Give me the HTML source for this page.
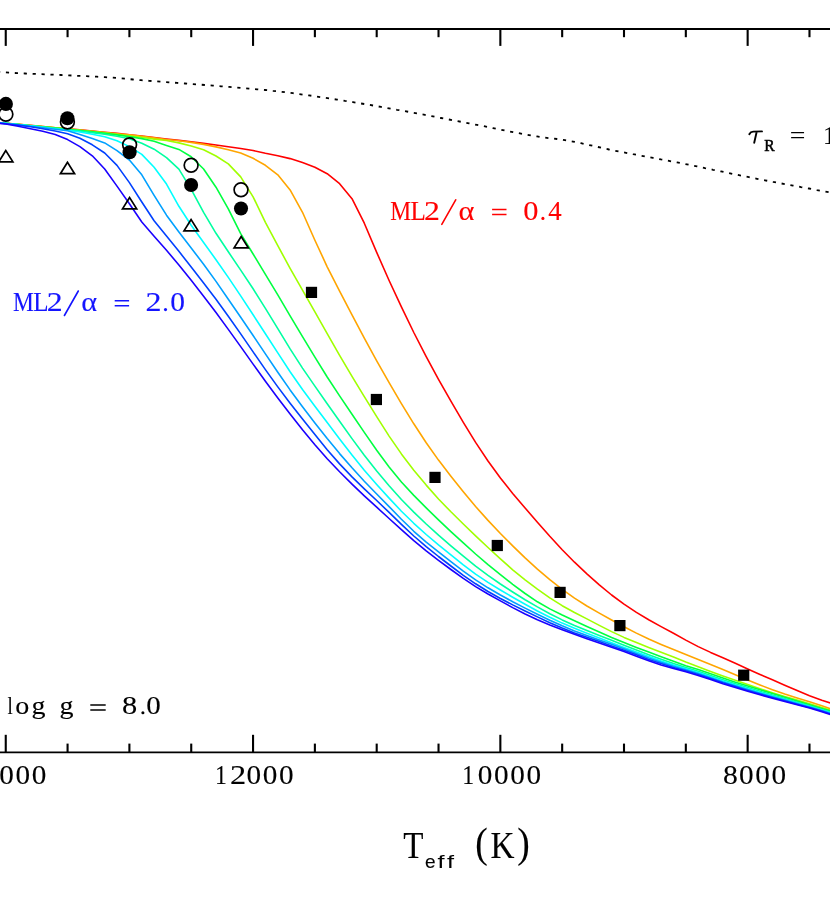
<!DOCTYPE html>
<html><head><meta charset="utf-8"><title>chart</title>
<style>html,body{margin:0;padding:0;background:#fff;}body{width:830px;height:897px;overflow:hidden;font-family:"Liberation Serif",serif;}svg{display:block;}</style>
</head><body>
<svg width="830" height="897" viewBox="0 0 830 897">
<rect width="830" height="897" fill="#fff"/>
<g stroke="#000" fill="none">
<line x1="0" y1="28.95" x2="830" y2="28.95" stroke-width="2.1"/>
<line x1="0" y1="752.4" x2="830" y2="752.4" stroke-width="1.6"/>
<line x1="-56.07" y1="29" x2="-56.07" y2="37.2" stroke-width="2.1"/>
<line x1="-56.07" y1="752.4" x2="-56.07" y2="743.6" stroke-width="2.1"/>
<line x1="5.75" y1="29" x2="5.75" y2="45.9" stroke-width="2.1"/>
<line x1="5.75" y1="752.4" x2="5.75" y2="734.8" stroke-width="2.1"/>
<line x1="67.57" y1="29" x2="67.57" y2="37.2" stroke-width="2.1"/>
<line x1="67.57" y1="752.4" x2="67.57" y2="743.6" stroke-width="2.1"/>
<line x1="129.40" y1="29" x2="129.40" y2="37.2" stroke-width="2.1"/>
<line x1="129.40" y1="752.4" x2="129.40" y2="743.6" stroke-width="2.1"/>
<line x1="191.23" y1="29" x2="191.23" y2="37.2" stroke-width="2.1"/>
<line x1="191.23" y1="752.4" x2="191.23" y2="743.6" stroke-width="2.1"/>
<line x1="253.05" y1="29" x2="253.05" y2="45.9" stroke-width="2.1"/>
<line x1="253.05" y1="752.4" x2="253.05" y2="734.8" stroke-width="2.1"/>
<line x1="314.88" y1="29" x2="314.88" y2="37.2" stroke-width="2.1"/>
<line x1="314.88" y1="752.4" x2="314.88" y2="743.6" stroke-width="2.1"/>
<line x1="376.70" y1="29" x2="376.70" y2="37.2" stroke-width="2.1"/>
<line x1="376.70" y1="752.4" x2="376.70" y2="743.6" stroke-width="2.1"/>
<line x1="438.53" y1="29" x2="438.53" y2="37.2" stroke-width="2.1"/>
<line x1="438.53" y1="752.4" x2="438.53" y2="743.6" stroke-width="2.1"/>
<line x1="500.35" y1="29" x2="500.35" y2="45.9" stroke-width="2.1"/>
<line x1="500.35" y1="752.4" x2="500.35" y2="734.8" stroke-width="2.1"/>
<line x1="562.17" y1="29" x2="562.17" y2="37.2" stroke-width="2.1"/>
<line x1="562.17" y1="752.4" x2="562.17" y2="743.6" stroke-width="2.1"/>
<line x1="624.00" y1="29" x2="624.00" y2="37.2" stroke-width="2.1"/>
<line x1="624.00" y1="752.4" x2="624.00" y2="743.6" stroke-width="2.1"/>
<line x1="685.83" y1="29" x2="685.83" y2="37.2" stroke-width="2.1"/>
<line x1="685.83" y1="752.4" x2="685.83" y2="743.6" stroke-width="2.1"/>
<line x1="747.65" y1="29" x2="747.65" y2="45.9" stroke-width="2.1"/>
<line x1="747.65" y1="752.4" x2="747.65" y2="734.8" stroke-width="2.1"/>
<line x1="809.48" y1="29" x2="809.48" y2="37.2" stroke-width="2.1"/>
<line x1="809.48" y1="752.4" x2="809.48" y2="743.6" stroke-width="2.1"/>
</g>
<polyline points="-3.0,71.8 1.0,72.1 5.0,72.4 9.0,72.7 13.0,72.9 17.0,73.1 21.0,73.3 25.0,73.5 29.0,73.7 33.0,73.9 37.0,74.0 41.0,74.2 45.0,74.3 49.0,74.5 53.0,74.7 57.0,74.8 61.0,75.0 65.0,75.2 69.0,75.4 73.0,75.6 77.0,75.8 81.0,75.9 85.0,76.1 89.0,76.3 93.0,76.5 97.0,76.7 101.0,77.0 105.0,77.2 109.0,77.4 113.0,77.7 117.0,78.0 121.0,78.4 125.0,78.7 129.0,79.1 133.0,79.5 137.0,79.9 141.0,80.2 145.0,80.5 149.0,80.8 153.0,81.1 157.0,81.4 161.0,81.7 165.0,82.0 169.0,82.3 173.0,82.6 177.0,82.9 181.0,83.2 185.0,83.5 189.0,83.8 193.0,84.1 197.0,84.4 201.0,84.7 205.0,85.0 209.0,85.3 213.0,85.6 217.0,86.0 221.0,86.3 225.0,86.6 229.0,86.9 233.0,87.2 237.0,87.5 241.0,87.9 245.0,88.2 249.0,88.6 253.0,88.9 257.0,89.3 261.0,89.7 265.0,90.0 269.0,90.4 273.0,90.9 277.0,91.3 281.0,91.7 285.0,92.2 289.0,92.7 293.0,93.2 297.0,93.8 301.0,94.3 305.0,94.9 309.0,95.4 313.0,96.0 317.0,96.6 321.0,97.2 325.0,97.8 329.0,98.4 333.0,99.0 337.0,99.6 341.0,100.2 345.0,100.9 349.0,101.5 353.0,102.1 357.0,102.8 361.0,103.5 365.0,104.1 369.0,104.8 373.0,105.5 377.0,106.2 381.0,106.9 385.0,107.6 389.0,108.3 393.0,109.0 397.0,109.8 401.0,110.5 405.0,111.2 409.0,111.9 413.0,112.7 417.0,113.4 421.0,114.2 425.0,114.9 429.0,115.7 433.0,116.4 437.0,117.2 441.0,118.0 445.0,118.8 449.0,119.5 453.0,120.3 457.0,121.1 461.0,121.8 465.0,122.6 469.0,123.4 473.0,124.1 477.0,124.9 481.0,125.7 485.0,126.4 489.0,127.3 493.0,128.1 497.0,128.9 501.0,129.7 505.0,130.5 509.0,131.3 513.0,132.1 517.0,132.9 521.0,133.6 525.0,134.4 529.0,135.1 533.0,135.8 537.0,136.4 541.0,137.0 545.0,137.6 549.0,138.1 553.0,138.5 557.0,139.0 561.0,139.5 565.0,140.2 569.0,140.9 573.0,141.6 577.0,142.4 581.0,143.2 585.0,144.1 589.0,145.0 593.0,145.9 597.0,146.8 601.0,147.7 605.0,148.6 609.0,149.5 613.0,150.3 617.0,151.1 621.0,151.9 625.0,152.6 629.0,153.4 633.0,154.2 637.0,154.9 641.0,155.7 645.0,156.4 649.0,157.2 653.0,157.9 657.0,158.6 661.0,159.4 665.0,160.1 669.0,160.9 673.0,161.7 677.0,162.4 681.0,163.2 685.0,164.0 689.0,164.8 693.0,165.6 697.0,166.4 701.0,167.2 705.0,168.1 709.0,168.9 713.0,169.8 717.0,170.6 721.0,171.4 725.0,172.3 729.0,173.1 733.0,174.0 737.0,174.8 741.0,175.6 745.0,176.4 749.0,177.2 753.0,178.0 757.0,178.8 761.0,179.6 765.0,180.3 769.0,181.1 773.0,181.9 777.0,182.6 781.0,183.4 785.0,184.1 789.0,184.8 793.0,185.6 797.0,186.3 801.0,187.1 805.0,187.8 809.0,188.5 813.0,189.3 817.0,190.1 821.0,190.8 825.0,191.6 829.0,192.3 833.0,193.1 837.0,193.9" fill="none" stroke="#000" stroke-width="1.8" stroke-dasharray="3.2 5.72"/>
<g fill="none" stroke-width="1.6" stroke-linejoin="round">
<polyline points="-6.6,122.3 5.8,123.3 18.1,124.3 30.5,125.4 42.8,126.6 55.2,127.7 67.6,128.8 79.9,129.9 92.3,131.1 104.7,132.2 117.0,133.4 129.4,134.7 141.8,136.0 154.1,137.6 166.5,139.1 178.9,140.4 191.2,141.8 203.6,143.4 216.0,145.0 228.3,146.8 240.7,148.5 253.1,150.5 265.4,153.3 277.8,155.7 290.1,158.6 302.5,162.5 314.9,167.3 327.2,173.7 339.6,183.7 352.0,198.7 364.3,223.2 376.7,252.4 389.1,280.5 401.4,306.9 413.8,332.5 426.2,356.6 438.5,379.3 450.9,401.1 463.3,422.3 475.6,442.4 488.0,461.0 500.4,478.0 512.7,493.4 525.1,508.0 537.4,522.2 549.8,536.3 562.2,549.7 574.5,562.2 586.9,573.8 599.3,584.8 611.6,595.0 624.0,604.2 636.4,612.4 648.7,619.8 661.1,626.6 673.5,633.3 685.8,640.1 698.2,646.6 710.6,652.4 722.9,657.8 735.3,663.3 747.7,669.0 760.0,674.5 772.4,679.8 784.7,685.2 797.1,690.6 809.5,695.7 821.8,700.2 834.2,704.3" stroke="#ff0000"/>
<polyline points="-6.6,122.3 5.8,123.3 18.1,124.3 30.5,125.5 42.8,126.6 55.2,127.8 67.6,128.9 79.9,130.1 92.3,131.3 104.7,132.5 117.0,133.7 129.4,134.9 141.8,136.3 154.1,137.9 166.5,139.5 178.9,140.8 191.2,142.4 203.6,144.4 216.0,146.9 228.3,149.8 240.7,153.1 253.1,158.3 265.4,165.3 277.8,174.8 290.1,189.9 302.5,212.3 314.9,240.2 327.2,266.8 339.6,291.1 352.0,314.9 364.3,338.2 376.7,360.9 389.1,382.7 401.4,403.6 413.8,423.8 426.2,442.8 438.5,460.1 450.9,476.2 463.3,491.7 475.6,506.5 488.0,520.4 500.4,533.5 512.7,545.9 525.1,557.9 537.4,569.2 549.8,579.7 562.2,589.3 574.5,598.1 586.9,606.0 599.3,613.1 611.6,620.0 624.0,626.7 636.4,633.1 648.7,639.0 661.1,644.4 673.5,649.5 685.8,654.5 698.2,659.5 710.6,664.4 722.9,669.5 735.3,674.8 747.7,680.1 760.0,685.0 772.4,689.7 784.7,694.1 797.1,698.0 809.5,701.7 821.8,705.8 834.2,710.2" stroke="#ffa500"/>
<polyline points="-6.6,122.3 5.8,123.3 18.1,124.4 30.5,125.5 42.8,126.7 55.2,127.9 67.6,129.1 79.9,130.3 92.3,131.5 104.7,132.8 117.0,134.2 129.4,135.7 141.8,137.2 154.1,139.1 166.5,140.5 178.9,142.9 191.2,146.0 203.6,149.8 216.0,156.0 228.3,163.9 240.7,176.9 253.1,196.8 265.4,222.3 277.8,245.7 290.1,268.3 302.5,290.2 314.9,311.8 327.2,333.6 339.6,355.4 352.0,376.4 364.3,396.7 376.7,416.7 389.1,436.1 401.4,453.9 413.8,470.2 426.2,485.1 438.5,499.0 450.9,511.8 463.3,524.0 475.6,535.8 488.0,547.5 500.4,558.9 512.7,569.8 525.1,579.8 537.4,589.2 549.8,597.8 562.2,605.7 574.5,612.5 586.9,618.9 599.3,625.4 611.6,631.6 624.0,637.4 636.4,642.5 648.7,647.4 661.1,652.2 673.5,657.1 685.8,662.1 698.2,666.8 710.6,671.4 722.9,675.9 735.3,680.2 747.7,684.5 760.0,688.7 772.4,692.7 784.7,696.4 797.1,700.1 809.5,703.8 821.8,707.6 834.2,711.4" stroke="#a0ff00"/>
<polyline points="-6.6,122.3 5.8,123.3 18.1,124.5 30.5,125.7 42.8,126.9 55.2,128.1 67.6,129.3 79.9,130.6 92.3,131.9 104.7,133.4 117.0,134.9 129.4,136.6 141.8,138.6 154.1,141.3 166.5,145.4 178.9,149.4 191.2,156.8 203.6,169.0 216.0,187.2 228.3,208.8 240.7,233.7 253.1,254.0 265.4,274.3 277.8,294.9 290.1,315.8 302.5,336.7 314.9,357.2 327.2,377.0 339.6,395.9 352.0,414.2 364.3,432.4 376.7,450.2 389.1,466.9 401.4,482.0 413.8,495.4 426.2,507.9 438.5,519.9 450.9,531.6 463.3,542.9 475.6,554.0 488.0,564.6 500.4,574.6 512.7,584.3 525.1,593.5 537.4,601.8 549.8,608.9 562.2,615.0 574.5,620.7 586.9,626.4 599.3,632.0 611.6,637.5 624.0,642.6 636.4,647.5 648.7,652.1 661.1,656.7 673.5,661.3 685.8,665.7 698.2,669.6 710.6,673.7 722.9,678.0 735.3,682.2 747.7,686.1 760.0,689.8 772.4,693.6 784.7,697.3 797.1,701.0 809.5,704.7 821.8,708.4 834.2,712.0" stroke="#00ff40"/>
<polyline points="-6.6,122.4 5.8,123.4 18.1,124.5 30.5,125.8 42.8,127.0 55.2,128.4 67.6,129.7 79.9,131.0 92.3,132.6 104.7,134.3 117.0,136.2 129.4,138.7 141.8,143.2 154.1,149.2 166.5,157.6 178.9,169.2 191.2,189.4 203.6,212.3 216.0,233.3 228.3,251.8 240.7,270.1 253.1,288.8 265.4,308.4 277.8,328.7 290.1,348.9 302.5,368.1 314.9,386.1 327.2,403.7 339.6,421.3 352.0,438.6 364.3,455.3 376.7,471.1 389.1,485.8 401.4,499.5 413.8,512.1 426.2,524.0 438.5,535.2 450.9,545.8 463.3,556.2 475.6,566.2 488.0,575.4 500.4,584.0 512.7,592.0 525.1,599.7 537.4,606.9 549.8,613.7 562.2,619.9 574.5,625.4 586.9,630.5 599.3,635.4 611.6,640.3 624.0,645.3 636.4,650.1 648.7,654.7 661.1,659.2 673.5,663.5 685.8,667.5 698.2,671.3 710.6,675.4 722.9,679.7 735.3,683.8 747.7,687.6 760.0,691.3 772.4,695.0 784.7,698.5 797.1,702.2 809.5,705.7 821.8,709.4 834.2,713.1" stroke="#00ffa0"/>
<polyline points="-6.6,122.4 5.8,123.4 18.1,124.6 30.5,125.9 42.8,127.3 55.2,128.7 67.6,130.2 79.9,132.0 92.3,134.2 104.7,136.8 117.0,140.8 129.4,146.6 141.8,154.4 154.1,167.3 166.5,184.1 178.9,206.3 191.2,225.2 203.6,242.5 216.0,259.7 228.3,277.4 240.7,295.9 253.1,314.8 265.4,333.8 277.8,352.9 290.1,371.7 302.5,389.5 314.9,406.2 327.2,422.4 339.6,438.9 352.0,455.1 364.3,470.3 376.7,484.5 389.1,498.1 401.4,511.2 413.8,523.3 426.2,534.5 438.5,544.9 450.9,554.9 463.3,564.8 475.6,574.1 488.0,582.4 500.4,590.0 512.7,597.2 525.1,604.2 537.4,611.0 549.8,617.3 562.2,623.1 574.5,628.3 586.9,633.2 599.3,638.0 611.6,642.7 624.0,647.4 636.4,652.0 648.7,656.6 661.1,661.0 673.5,665.1 685.8,668.8 698.2,672.6 710.6,676.7 722.9,681.0 735.3,684.9 747.7,688.7 760.0,692.4 772.4,696.0 784.7,699.5 797.1,703.0 809.5,706.5 821.8,710.1 834.2,713.9" stroke="#00ffff"/>
<polyline points="-6.6,122.5 5.8,123.5 18.1,124.8 30.5,126.3 42.8,127.8 55.2,129.3 67.6,130.8 79.9,134.6 92.3,138.5 104.7,142.9 117.0,150.6 129.4,160.0 141.8,174.8 154.1,195.4 166.5,215.2 178.9,231.9 191.2,248.0 203.6,264.3 216.0,281.4 228.3,299.3 240.7,317.3 253.1,335.5 265.4,353.9 277.8,372.3 290.1,389.9 302.5,406.7 314.9,422.9 327.2,438.6 339.6,453.6 352.0,467.8 364.3,481.2 376.7,494.0 389.1,506.6 401.4,519.2 413.8,531.3 426.2,542.1 438.5,551.9 450.9,561.6 463.3,571.1 475.6,579.9 488.0,587.8 500.4,595.0 512.7,601.7 525.1,608.1 537.4,614.2 549.8,620.2 562.2,625.8 574.5,630.9 586.9,635.5 599.3,639.9 611.6,644.3 624.0,648.8 636.4,653.4 648.7,658.0 661.1,662.3 673.5,666.2 685.8,669.8 698.2,673.5 710.6,677.7 722.9,681.9 735.3,685.8 747.7,689.5 760.0,693.2 772.4,696.7 784.7,700.1 797.1,703.6 809.5,707.0 821.8,710.6 834.2,714.5" stroke="#00a0ff"/>
<polyline points="-6.6,122.6 5.8,123.7 18.1,125.1 30.5,126.8 42.8,128.7 55.2,131.0 67.6,133.7 79.9,138.2 92.3,144.8 104.7,153.0 117.0,165.4 129.4,182.6 141.8,202.0 154.1,220.8 166.5,235.9 178.9,251.3 191.2,267.1 203.6,283.0 216.0,299.3 228.3,316.2 240.7,333.9 253.1,351.9 265.4,369.6 277.8,386.9 290.1,403.3 302.5,419.1 314.9,434.6 327.2,449.7 339.6,463.9 352.0,476.9 364.3,488.9 376.7,500.5 389.1,512.4 401.4,524.4 413.8,536.0 426.2,546.6 438.5,556.5 450.9,566.0 463.3,575.3 475.6,583.8 488.0,591.5 500.4,598.5 512.7,604.9 525.1,611.0 537.4,616.9 549.8,622.8 562.2,628.1 574.5,632.9 586.9,637.3 599.3,641.6 611.6,645.9 624.0,650.3 636.4,654.8 648.7,659.4 661.1,663.6 673.5,667.4 685.8,670.7 698.2,674.4 710.6,678.6 722.9,682.8 735.3,686.6 747.7,690.4 760.0,694.0 772.4,697.4 784.7,700.8 797.1,704.2 809.5,707.6 821.8,711.1 834.2,715.1" stroke="#0040ff"/>
<polyline points="-6.6,122.7 5.8,124.0 18.1,126.2 30.5,128.7 42.8,131.3 55.2,134.5 67.6,139.6 79.9,146.6 92.3,155.8 104.7,169.0 117.0,186.1 129.4,203.7 141.8,222.0 154.1,236.2 166.5,250.3 178.9,264.9 191.2,280.2 203.6,296.2 216.0,312.6 228.3,329.4 240.7,346.6 253.1,364.1 265.4,381.3 277.8,397.9 290.1,414.0 302.5,429.7 314.9,444.7 327.2,458.7 339.6,471.8 352.0,484.1 364.3,495.8 376.7,507.2 389.1,518.5 401.4,529.7 413.8,540.7 426.2,550.9 438.5,560.3 450.9,569.5 463.3,578.4 475.6,586.6 488.0,594.0 500.4,600.9 512.7,607.6 525.1,614.0 537.4,619.7 549.8,624.9 562.2,629.7 574.5,634.3 586.9,638.7 599.3,643.0 611.6,647.2 624.0,651.6 636.4,656.2 648.7,660.7 661.1,665.0 673.5,668.5 685.8,671.7 698.2,675.4 710.6,679.6 722.9,683.7 735.3,687.5 747.7,691.2 760.0,694.8 772.4,698.2 784.7,701.4 797.1,704.8 809.5,708.1 821.8,711.7 834.2,715.7" stroke="#1a00ff"/>
</g>
<polygon points="5.8,150.5 -1.3,161.9 12.9,161.9" fill="none" stroke="#000" stroke-width="1.7" stroke-linejoin="miter"/>
<polygon points="67.5,162.3 60.4,173.7 74.6,173.7" fill="none" stroke="#000" stroke-width="1.7" stroke-linejoin="miter"/>
<polygon points="129.6,197.5 122.5,208.9 136.7,208.9" fill="none" stroke="#000" stroke-width="1.7" stroke-linejoin="miter"/>
<polygon points="191.1,219.5 184.0,230.9 198.2,230.9" fill="none" stroke="#000" stroke-width="1.7" stroke-linejoin="miter"/>
<polygon points="241.2,236.5 234.1,247.9 248.3,247.9" fill="none" stroke="#000" stroke-width="1.7" stroke-linejoin="miter"/>
<circle cx="5.9" cy="114.3" r="6.9" fill="none" stroke="#000" stroke-width="1.7"/>
<circle cx="67.4" cy="122.0" r="6.9" fill="none" stroke="#000" stroke-width="1.7"/>
<circle cx="129.6" cy="144.8" r="6.9" fill="none" stroke="#000" stroke-width="1.7"/>
<circle cx="191.1" cy="165.2" r="6.9" fill="none" stroke="#000" stroke-width="1.7"/>
<circle cx="241" cy="189.8" r="6.9" fill="none" stroke="#000" stroke-width="1.7"/>
<circle cx="5.9" cy="103.9" r="7.05" fill="#000"/>
<circle cx="67.4" cy="118.2" r="7.05" fill="#000"/>
<circle cx="129.6" cy="152.3" r="7.05" fill="#000"/>
<circle cx="191.1" cy="185.0" r="7.05" fill="#000"/>
<circle cx="241" cy="208.5" r="7.05" fill="#000"/>
<rect x="305.9" y="286.8" width="11.2" height="11.2" fill="#000"/>
<rect x="370.8" y="393.9" width="11.2" height="11.2" fill="#000"/>
<rect x="429.4" y="471.8" width="11.2" height="11.2" fill="#000"/>
<rect x="491.7" y="539.9" width="11.2" height="11.2" fill="#000"/>
<rect x="554.5" y="586.8" width="11.2" height="11.2" fill="#000"/>
<rect x="614.3" y="620.0" width="11.2" height="11.2" fill="#000"/>
<rect x="738.1" y="669.6" width="11.2" height="11.2" fill="#000"/>
<g style="opacity:0.999">
<text transform="translate(12.94,310.9) scale(0.875,1)" font-family="Liberation Serif" font-size="26.8" fill="#1414ff" stroke="#1414ff" stroke-width="0.12">M</text>
<text transform="translate(33.20,310.9) scale(0.935,1)" font-family="Liberation Serif" font-size="26.8" fill="#1414ff" stroke="#1414ff" stroke-width="0.12">L</text>
<text transform="translate(46.63,310.9) scale(1.188,1)" font-family="Liberation Serif" font-size="26.8" fill="#1414ff" stroke="#1414ff" stroke-width="0.12">2</text>
<line x1="78.3" y1="291.0" x2="64.4" y2="315.5" stroke="#1414ff" stroke-width="1.6" stroke-linecap="round"/>
<text transform="translate(81.15,310.9) scale(1.093,1)" font-family="Liberation Serif" font-size="27.8" fill="#1414ff" stroke="#1414ff" stroke-width="0.12">α</text>
<path d="M114.7,300.8H129.1M114.7,305.8H129.1" stroke="#1414ff" stroke-width="1.5" fill="none"/>
<text transform="translate(145.52,310.9) scale(1.197,1)" font-family="Liberation Serif" font-size="26.8" fill="#1414ff" stroke="#1414ff" stroke-width="0.12">2</text>
<circle cx="165.5" cy="309.6" r="1.55" fill="#1414ff"/>
<text transform="translate(170.18,310.9) scale(1.100,1)" font-family="Liberation Serif" font-size="26.8" fill="#1414ff" stroke="#1414ff" stroke-width="0.12">0</text>
<text transform="translate(390.34,219.7) scale(0.875,1)" font-family="Liberation Serif" font-size="26.8" fill="#ff0000" stroke="#ff0000" stroke-width="0.12">M</text>
<text transform="translate(410.60,219.7) scale(0.935,1)" font-family="Liberation Serif" font-size="26.8" fill="#ff0000" stroke="#ff0000" stroke-width="0.12">L</text>
<text transform="translate(424.03,219.7) scale(1.188,1)" font-family="Liberation Serif" font-size="26.8" fill="#ff0000" stroke="#ff0000" stroke-width="0.12">2</text>
<line x1="455.7" y1="199.8" x2="441.8" y2="224.3" stroke="#ff0000" stroke-width="1.6" stroke-linecap="round"/>
<text transform="translate(458.55,219.7) scale(1.093,1)" font-family="Liberation Serif" font-size="27.8" fill="#ff0000" stroke="#ff0000" stroke-width="0.12">α</text>
<path d="M492.09999999999997,209.60000000000002H506.5M492.09999999999997,214.60000000000002H506.5" stroke="#ff0000" stroke-width="1.5" fill="none"/>
<text transform="translate(523.14,219.7) scale(1.135,1)" font-family="Liberation Serif" font-size="26.8" fill="#ff0000" stroke="#ff0000" stroke-width="0.12">0</text>
<circle cx="542.9" cy="218.40000000000003" r="1.55" fill="#ff0000"/>
<text transform="translate(548.19,219.7) scale(1.001,1)" font-family="Liberation Serif" font-size="26.8" fill="#ff0000" stroke="#ff0000" stroke-width="0.12">4</text>
<text transform="translate(7.62,714.1) scale(0.722,1)" font-family="Liberation Serif" font-size="26.2" fill="#000" stroke="#000" stroke-width="0.12">l</text>
<text transform="translate(15.13,714.1) scale(1.071,1)" font-family="Liberation Serif" font-size="26.2" fill="#000" stroke="#000" stroke-width="0.12">o</text>
<text transform="translate(31.42,714.1) scale(1.069,1)" font-family="Liberation Serif" font-size="26.2" fill="#000" stroke="#000" stroke-width="0.12">g</text>
<text transform="translate(59.62,714.1) scale(1.069,1)" font-family="Liberation Serif" font-size="26.2" fill="#000" stroke="#000" stroke-width="0.12">g</text>
<path d="M90.3,704.9H105.7M90.3,710.0H105.7" stroke="#000" stroke-width="1.5" fill="none"/>
<text transform="translate(121.94,714.1) scale(1.161,1)" font-family="Liberation Serif" font-size="26.2" fill="#000" stroke="#000" stroke-width="0.12">8</text>
<circle cx="142.9" cy="712.8" r="1.55" fill="#000"/>
<text transform="translate(146.20,714.1) scale(1.107,1)" font-family="Liberation Serif" font-size="26.2" fill="#000" stroke="#000" stroke-width="0.12">0</text>
<text transform="translate(-32.25,784.0) scale(0.905,1)" font-family="Liberation Serif" font-size="26.3" fill="#000" stroke="#000" stroke-width="0.12">1</text>
<text transform="translate(-16.56,784.0) scale(1.077,1)" font-family="Liberation Serif" font-size="26.3" fill="#000" stroke="#000" stroke-width="0.12">4</text>
<text transform="translate(-0.69,784.0) scale(1.112,1)" font-family="Liberation Serif" font-size="26.3" fill="#000" stroke="#000" stroke-width="0.12">0</text>
<text transform="translate(15.56,784.0) scale(1.112,1)" font-family="Liberation Serif" font-size="26.3" fill="#000" stroke="#000" stroke-width="0.12">0</text>
<text transform="translate(31.81,784.0) scale(1.112,1)" font-family="Liberation Serif" font-size="26.3" fill="#000" stroke="#000" stroke-width="0.12">0</text>
<text transform="translate(215.05,784.0) scale(0.905,1)" font-family="Liberation Serif" font-size="26.3" fill="#000" stroke="#000" stroke-width="0.12">1</text>
<text transform="translate(229.98,784.0) scale(1.230,1)" font-family="Liberation Serif" font-size="26.3" fill="#000" stroke="#000" stroke-width="0.12">2</text>
<text transform="translate(246.61,784.0) scale(1.112,1)" font-family="Liberation Serif" font-size="26.3" fill="#000" stroke="#000" stroke-width="0.12">0</text>
<text transform="translate(262.86,784.0) scale(1.112,1)" font-family="Liberation Serif" font-size="26.3" fill="#000" stroke="#000" stroke-width="0.12">0</text>
<text transform="translate(279.11,784.0) scale(1.112,1)" font-family="Liberation Serif" font-size="26.3" fill="#000" stroke="#000" stroke-width="0.12">0</text>
<text transform="translate(462.35,784.0) scale(0.905,1)" font-family="Liberation Serif" font-size="26.3" fill="#000" stroke="#000" stroke-width="0.12">1</text>
<text transform="translate(477.66,784.0) scale(1.112,1)" font-family="Liberation Serif" font-size="26.3" fill="#000" stroke="#000" stroke-width="0.12">0</text>
<text transform="translate(493.91,784.0) scale(1.112,1)" font-family="Liberation Serif" font-size="26.3" fill="#000" stroke="#000" stroke-width="0.12">0</text>
<text transform="translate(510.16,784.0) scale(1.112,1)" font-family="Liberation Serif" font-size="26.3" fill="#000" stroke="#000" stroke-width="0.12">0</text>
<text transform="translate(526.41,784.0) scale(1.112,1)" font-family="Liberation Serif" font-size="26.3" fill="#000" stroke="#000" stroke-width="0.12">0</text>
<text transform="translate(722.90,784.0) scale(1.130,1)" font-family="Liberation Serif" font-size="26.3" fill="#000" stroke="#000" stroke-width="0.12">8</text>
<text transform="translate(739.06,784.0) scale(1.112,1)" font-family="Liberation Serif" font-size="26.3" fill="#000" stroke="#000" stroke-width="0.12">0</text>
<text transform="translate(755.31,784.0) scale(1.112,1)" font-family="Liberation Serif" font-size="26.3" fill="#000" stroke="#000" stroke-width="0.12">0</text>
<text transform="translate(771.56,784.0) scale(1.112,1)" font-family="Liberation Serif" font-size="26.3" fill="#000" stroke="#000" stroke-width="0.12">0</text>
<path d="M749.3,134.2 Q750.6,131.7 753.2,131.6 L762.0,131.4 M756.7,131.7 L754.2,142.7" fill="none" stroke="#000" stroke-width="1.9" stroke-linecap="round"/>
<text x="764.2" y="151.4" font-family="Liberation Serif" font-size="16.5" font-weight="normal" font-style="normal" fill="#000" stroke="#000" stroke-width="0.55" text-anchor="start" textLength="10.4" lengthAdjust="spacingAndGlyphs" >R</text>
<text x="789.8" y="144.0" font-family="Liberation Serif" font-size="26" font-weight="normal" font-style="normal" fill="#000" stroke="#000" stroke-width="0.12" text-anchor="start" textLength="15.6" lengthAdjust="spacingAndGlyphs" >=</text>
<text x="823" y="143.5" font-family="Liberation Serif" font-size="26" font-weight="normal" font-style="normal" fill="#000" stroke="#000" stroke-width="0.12" text-anchor="start" >1</text>
<text x="403.3" y="857.8" font-family="Liberation Serif" font-size="38" font-weight="normal" font-style="normal" fill="#000" stroke="#000" stroke-width="0.12" text-anchor="start" textLength="20.2" lengthAdjust="spacingAndGlyphs" >T</text>
<text x="425.0" y="867.8" font-family="Liberation Sans" font-size="19" font-weight="normal" font-style="normal" fill="#000" stroke="#000" stroke-width="0.15" text-anchor="start" textLength="10.6" lengthAdjust="spacingAndGlyphs" >e</text>
<text x="437.4" y="867.8" font-family="Liberation Sans" font-size="19" font-weight="normal" font-style="normal" fill="#000" stroke="#000" stroke-width="0.05" text-anchor="start" textLength="7.0" lengthAdjust="spacingAndGlyphs" >f</text>
<text x="446.9" y="867.8" font-family="Liberation Sans" font-size="19" font-weight="normal" font-style="normal" fill="#000" stroke="#000" stroke-width="0.05" text-anchor="start" textLength="7.0" lengthAdjust="spacingAndGlyphs" >f</text>
<text x="475.3" y="857.0" font-family="Liberation Serif" font-size="42" font-weight="normal" font-style="normal" fill="#000" stroke="#000" stroke-width="0.12" text-anchor="start" textLength="12.5" lengthAdjust="spacingAndGlyphs" >(</text>
<text x="490.6" y="857.8" font-family="Liberation Serif" font-size="38" font-weight="normal" font-style="normal" fill="#000" stroke="#000" stroke-width="0.12" text-anchor="start" textLength="24" lengthAdjust="spacingAndGlyphs" >K</text>
<text x="517.3" y="857.0" font-family="Liberation Serif" font-size="42" font-weight="normal" font-style="normal" fill="#000" stroke="#000" stroke-width="0.12" text-anchor="start" textLength="12.5" lengthAdjust="spacingAndGlyphs" >)</text>
</g>
</svg>
</body></html>
